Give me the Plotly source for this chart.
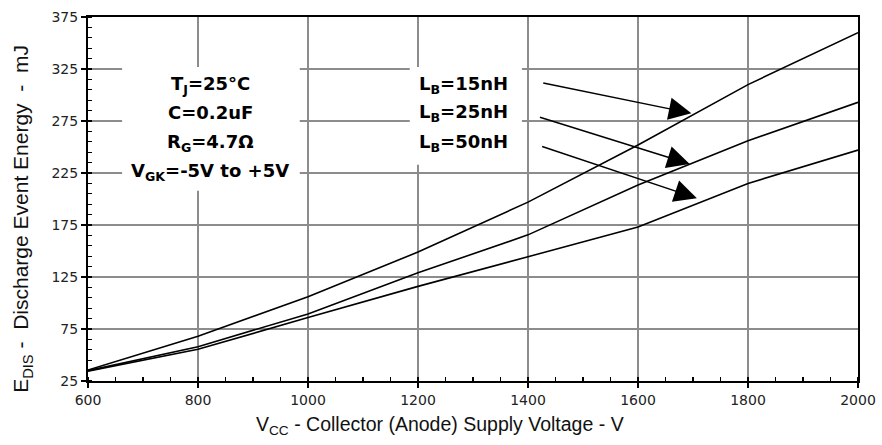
import plotly.graph_objects as go

# ---- data ----
vcc = [600, 800, 1000, 1200, 1400, 1600, 1800, 2000]
e_15nH = [35.5, 68, 106, 149, 197, 252, 310, 360]
e_25nH = [35, 58, 89.5, 129, 165.5, 213.5, 256, 293]
e_50nH = [34.5, 55.5, 86, 116, 144.5, 173, 215, 247]

series_names = ["L<sub>B</sub>=15nH", "L<sub>B</sub>=25nH", "L<sub>B</sub>=50nH"]
series_values = [e_15nH, e_25nH, e_50nH]

x_ticks = [600, 800, 1000, 1200, 1400, 1600, 1800, 2000]
y_ticks = [25, 75, 125, 175, 225, 275, 325, 375]

conditions = ["T<sub>J</sub>=25°C", "C=0.2uF", "R<sub>G</sub>=4.7Ω", "V<sub>GK</sub>=-5V to +5V"]

x_title = "V<sub>CC</sub> - Collector (Anode) Supply Voltage - V"
y_title = "E<sub>DIS</sub>\u00a0-\u00a0 Discharge Event Energy\u00a0 -\u00a0 mJ"

fig = go.Figure()
for name, vals in zip(series_names, series_values):
    fig.add_trace(go.Scatter(x=vcc, y=vals, mode="lines", name=name,
                             line=dict(color="black", width=1.6), showlegend=False))

label_font = dict(family="DejaVu Sans", size=18, color="black")

# white boxes behind text blocks (above grid, below traces)
fig.add_shape(type="rect", x0=662, x1=985, y0=208, y1=327, xref="x", yref="y",
              fillcolor="white", line=dict(width=0), layer="between")
fig.add_shape(type="rect", x0=1185, x1=1389, y0=233, y1=327, xref="x", yref="y",
              fillcolor="white", line=dict(width=0), layer="between")

# condition text
cond_y = [309.6, 282.7, 253.8, 226]
for t, yy in zip(conditions, cond_y):
    fig.add_annotation(x=822, y=yy, xref="x", yref="y", text="<b>" + t + "</b>",
                       showarrow=False, font=label_font, xanchor="center", yanchor="middle")

# series labels with arrows
lab_y = [309.6, 282.7, 253.8]
tails = [(1425, 311.8), (1419, 279.1), (1423, 251)]
tips = [(1697, 282.4), (1694, 233.7), (1707, 200.7)]
for name, yy, (tx, ty), (hx, hy) in zip(series_names, lab_y, tails, tips):
    fig.add_annotation(x=1198, y=yy, xref="x", yref="y", text="<b>" + name + "</b>",
                       showarrow=False, font=label_font, xanchor="left", yanchor="middle")
    fig.add_annotation(x=hx, y=hy, ax=tx, ay=ty, xref="x", yref="y", axref="x", ayref="y",
                       text="", showarrow=True, arrowhead=2, arrowsize=3.0, arrowwidth=1.5,
                       arrowcolor="black")

fig.add_annotation(x=0.457, y=-0.121, xref="paper", yref="paper", text=x_title,
                   showarrow=False, font=dict(family="Liberation Sans", size=19.5, color="#111"),
                   xanchor="center", yanchor="middle")
fig.add_annotation(x=-0.0857, y=-0.038, xref="paper", yref="paper", text=y_title,
                   showarrow=False, font=dict(family="Liberation Sans", size=21, color="#111"),
                   textangle=-90, xanchor="center", yanchor="bottom")

axis_common = dict(
    showline=True, linecolor="black", linewidth=2, mirror=True,
    showgrid=True, gridcolor="#8c8c8c", gridwidth=1.5,
    ticks="outside", ticklen=5, tickwidth=1.5, tickcolor="black",
    tickfont=dict(family="DejaVu Sans", size=14, color="#222"),
    zeroline=False, automargin=False, ticklabeloverflow="allow",
)

fig.update_xaxes(range=[600, 2000], tickmode="array", tickvals=x_ticks,
                 ticktext=[str(v) for v in x_ticks],
                 minor=dict(ticks="inside", ticklen=4, tickwidth=1.2, tickcolor="black",
                            dtick=50, tick0=600, showgrid=False),
                 **axis_common)
fig.update_yaxes(range=[25, 375], tickmode="array", tickvals=y_ticks,
                 ticktext=[str(v) for v in y_ticks],
                 minor=dict(ticks="inside", ticklen=4, tickwidth=1.2, tickcolor="black",
                            dtick=10, tick0=25, showgrid=False),
                 **axis_common)

fig.update_layout(
    width=882, height=445,
    margin=dict(l=88, r=24, t=17, b=64),
    paper_bgcolor="white", plot_bgcolor="white",
    hovermode=False,
)

# remove the default 8px page margin so the figure fills the window exactly
fig.write_html("out.html", config={"displayModeBar": False, "staticPlot": True},
               post_script="document.body.style.margin='0';document.body.style.overflow='hidden';")
